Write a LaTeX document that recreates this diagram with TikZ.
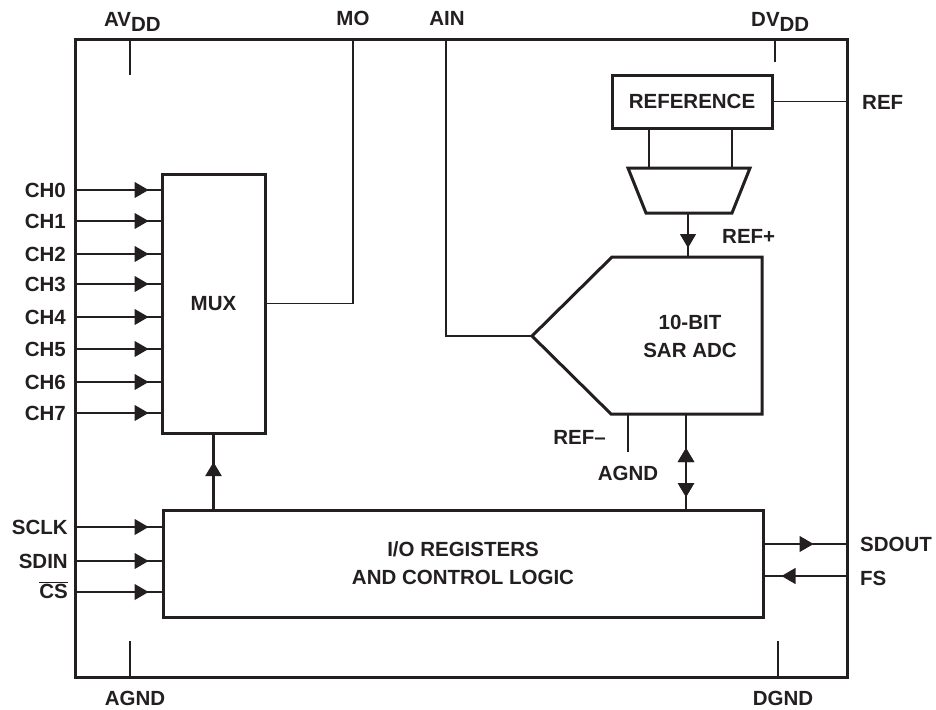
\documentclass[tikz,border=0pt]{standalone}
\usepackage{fontspec}
\setmainfont{Liberation Sans}
\usetikzlibrary{arrows.meta,decorations.markings}
\definecolor{ink}{HTML}{231F20}
\begin{document}
\begin{tikzpicture}[x=1pt,y=-1pt,
  every node/.style={font=\fontsize{20.5}{24}\selectfont\bfseries, text=ink, inner sep=0pt},
  thickbox/.style={draw=ink, line width=3pt, inner sep=0pt},
  pin/.style={draw=ink, line width=1.1pt},
  bus/.style={draw=ink, line width=2.2pt},
  tipat/.style={postaction={decorate}, decoration={markings, mark=at position #1 with {\arrow{Triangle[length=14pt,width=16pt]}}}},
  tiprev/.style={postaction={decorate}, decoration={markings, mark=at position #1 with {\arrowreversed{Triangle[length=14pt,width=16pt]}}}},
]
\useasboundingbox (0,0) rectangle (936,709);

% outer chip boundary
\node[thickbox, minimum width=772, minimum height=637] (chip) at (461,358.5) {};

% blocks
\node[thickbox, minimum width=103, minimum height=259] (mux) at (213.5,303.5) {MUX};
\node[thickbox, minimum width=600, minimum height=107, align=center, execute at begin node=\setlength{\baselineskip}{28pt}] (io) at (463,563.5) {I/O REGISTERS\\AND CONTROL LOGIC};
\node[thickbox, minimum width=160, minimum height=53] (refbox) at (692,101.5) {REFERENCE};

% trapezoid buffer
\coordinate (trTL) at (628,168);
\coordinate (trTR) at (750,168);
\coordinate (trBR) at (732,213);
\coordinate (trBL) at (646,213);
\draw[draw=ink, line width=3pt, line join=miter] (trTL) -- (trTR) -- (trBR) -- (trBL) -- cycle;

% ADC pentagon
\coordinate (adcA) at (612,257);
\coordinate (adcB) at (762,257);
\coordinate (adcC) at (762,414);
\coordinate (adcD) at (611,414);
\coordinate (adctip) at (532,336);
\draw[draw=ink, line width=3pt, line join=miter] (adcA) -- (adcB) -- (adcC) -- (adcD) -- (adctip) -- cycle;
\node[align=center, execute at begin node=\setlength{\baselineskip}{28pt}] (adc) at (690,336) {10-BIT\\SAR ADC};

% channel inputs
\foreach \n/\y in {0/190,1/221,2/254,3/284,4/317,5/349,6/382,7/413}{
  \coordinate (ch\n) at (75,\y);
  \node[anchor=east] (lch\n) at (66,\y) {CH\n};
  \draw[pin, tipat=-12pt] (ch\n) -- (mux.west |- ch\n);
}

% serial inputs
\foreach \nm/\y/\t in {sclk/527/SCLK,sdin/561/SDIN}{
  \coordinate (p\nm) at (75,\y);
  \node[anchor=east] (l\nm) at (68,\y) {\t};
  \draw[pin, tipat=-13pt] (p\nm) -- (io.west |- p\nm);
}
\coordinate (pcs) at (75,592);
\node[anchor=east] (lcs) at (68,590) {$\overline{\mbox{CS}}$};
\draw[pin, tipat=-13pt] (pcs) -- (io.west |- pcs);

% outputs
\coordinate (psdout) at (847,544);
\coordinate (pfs) at (847,576);
\draw[pin, tipat=49pt] (io.east |- psdout) -- (psdout);
\draw[pin, tipat=-17pt] (pfs) -- (io.east |- pfs);
\node[anchor=west] (lsdout) at (860,544) {SDOUT};
\node[anchor=west] (lfs) at (860,578) {FS};

% control to MUX
\coordinate (iomux) at (213.5,510);
\draw[bus, tipat=48pt] (iomux) -- (mux.south);

% ADC to IO double arrow
\coordinate (adcbot) at (686,414);
\coordinate (iotop) at (686,510);
\draw[bus, tiprev=34pt, tipat=-13pt] (adcbot) -- (iotop);

% MO
\coordinate (mopin) at (353,40);
\draw[pin] (mux.east) -| (mopin);
\node (lmo) at (353,18) {MO};

% AIN
\coordinate (ainpin) at (446,40);
\draw[pin] (ainpin) |- (adctip);
\node (lain) at (447,18) {AIN};

% reference connections
\coordinate (refL) at (649,128);
\coordinate (refR) at (732,128);
\draw[pin] (refL) -- (649,168);
\draw[pin] (refR) -- (732,168);
\draw[pin] (refbox.east) -- (chip.east |- refbox.east);
\node[anchor=west] (lref) at (862,102) {REF};

\coordinate (trbot) at (688,213);
\coordinate (adctop) at (688,257);
\draw[pin, tipat=-9pt] (trbot) -- (adctop);
\node[anchor=west] (lrefp) at (722,236) {REF+};

% REF-
\coordinate (refm) at (628,414);
\coordinate (refmend) at (628,452);
\draw[pin] (refm) -- (refmend);
\node[anchor=east] (lrefm) at (606,437) {REF–};
\node (lagndi) at (628,473) {AGND};

% power pins
\coordinate (avdd) at (130,40);
\coordinate (avddend) at (130,75);
\draw[pin] (avdd) -- (avddend);
\node[anchor=base west] (lavdd) at (104,27) {AV\raisebox{-5pt}{DD}};
\coordinate (dvdd) at (775,40);
\coordinate (dvddend) at (775,62);
\draw[pin] (dvdd) -- (dvddend);
\node[anchor=base west] (ldvdd) at (751,27) {DV\raisebox{-5pt}{DD}};

% ground pins
\coordinate (agnd) at (130,677);
\coordinate (agndend) at (130,641);
\draw[pin] (agnd) -- (agndend);
\node (lagnd) at (135,698) {AGND};
\coordinate (dgnd) at (778,677);
\coordinate (dgndend) at (778,641);
\draw[pin] (dgnd) -- (dgndend);
\node (ldgnd) at (783,698) {DGND};
\end{tikzpicture}
\end{document}
